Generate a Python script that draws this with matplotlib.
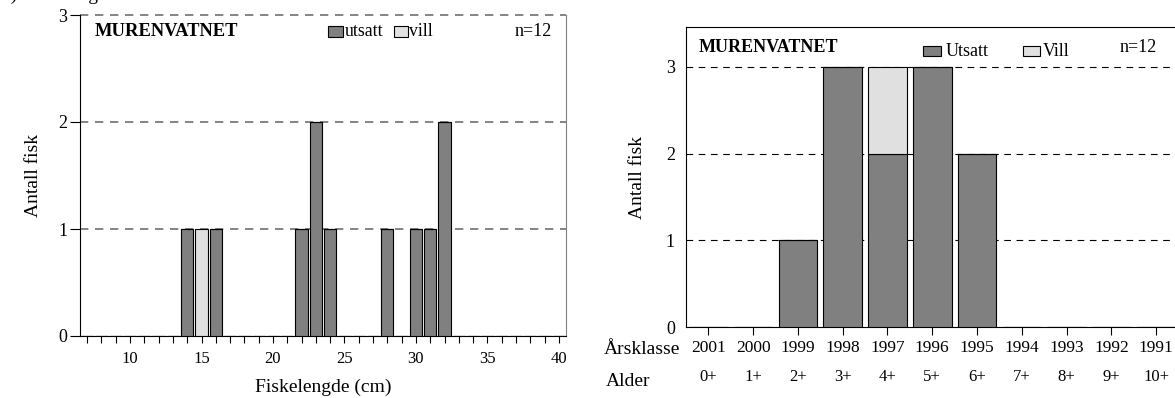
import matplotlib
matplotlib.use("Agg")
import matplotlib.pyplot as plt
from matplotlib.patches import Rectangle

plt.rcParams['font.family'] = ['Liberation Serif', 'DejaVu Serif']

# lengths (cm) and counts, left panel
lengths = list(range(7, 41))
len_utsatt = {14: 1, 16: 1, 22: 1, 23: 2, 24: 1, 28: 1, 30: 1, 31: 1, 32: 2}
len_vill = {15: 1}

# age classes, right panel
year_classes = ['2001', '2000', '1999', '1998', '1997', '1996', '1995', '1994', '1993', '1992', '1991']
ages = ['0+', '1+', '2+', '3+', '4+', '5+', '6+', '7+', '8+', '9+', '10+']
age_utsatt = [0, 0, 1, 3, 2, 3, 2, 0, 0, 0, 0]
age_vill = [0, 0, 0, 0, 1, 0, 0, 0, 0, 0, 0]

lake = 'MURENVATNET'
n_text = 'n=12'
c_utsatt = '#808080'
c_vill = '#e0e0e0'

W, H = 1175, 398
fig = plt.figure(figsize=(W / 100, H / 100), dpi=100)


def fx(x):
    return x / W


def fy(y):
    return 1 - y / H


# ---- left: length distribution
ax1 = fig.add_axes([fx(80), fy(336), 486 / W, 321 / H])
u = [len_utsatt.get(l, 0) for l in lengths]
v = [len_vill.get(l, 0) for l in lengths]
ax1.bar(lengths, u, width=0.86, color=c_utsatt, edgecolor='black', lw=0.8, zorder=3)
ax1.bar(lengths, v, width=0.86, bottom=u, color=c_vill, edgecolor='black', lw=0.8, zorder=3)
ax1.set_xlim(6.5, 40.5)
ax1.set_ylim(0, 3)
for yv in [1, 2, 3]:
    ax1.axhline(yv, color='#707070', ls=(0, (5, 4)), lw=1.2, zorder=1, clip_on=False)
ax1.spines['top'].set_visible(False)
ax1.spines['right'].set_color('#808080')
ax1.set_xticks(lengths, minor=True)
ax1.set_xticks([10, 15, 20, 25, 30, 35, 40])
ax1.tick_params(axis='x', which='both', direction='out', length=5, width=0.8, labelsize=12, pad=6)
ax1.set_yticks([0, 1, 2, 3])
ax1.tick_params(axis='y', direction='out', length=7, width=0.8, labelsize=13, pad=2)
ax1.set_ylabel('Antall fisk', fontsize=14, labelpad=12)
ax1.set_xlabel('Fiskelengde (cm)', fontsize=14, labelpad=8)

fig.text(fx(95), fy(31), lake, fontsize=13.3, fontweight='bold', va='center')
fig.patches.append(Rectangle((fx(328), fy(37)), 15 / W, 11 / H, transform=fig.transFigure,
                             facecolor=c_utsatt, edgecolor='black', lw=0.8))
fig.text(fx(345), fy(32), 'utsatt', fontsize=12.8, va='center')
fig.patches.append(Rectangle((fx(394), fy(37)), 14 / W, 11 / H, transform=fig.transFigure,
                             facecolor=c_vill, edgecolor='black', lw=0.8))
fig.text(fx(409), fy(32), 'vill', fontsize=12.8, va='center')
fig.text(fx(515), fy(32), n_text, fontsize=13, va='center')

# cut-off caption at the very top
fig.text(fx(2), fy(-5), 'a) Fordeling', fontsize=14, va='center')

# ---- right: age distribution
ax2 = fig.add_axes([fx(686), fy(327), 492.5 / W, 300 / H])
xs = list(range(len(year_classes)))
ax2.bar(xs, age_utsatt, width=0.86, color=c_utsatt, edgecolor='black', lw=0.8, zorder=3)
ax2.bar(xs, age_vill, width=0.86, bottom=age_utsatt, color=c_vill, edgecolor='black', lw=0.8, zorder=3)
ax2.set_xlim(-0.5, 10.5)
ax2.set_ylim(0, 3.46)
for yv in [1, 2, 3]:
    ax2.axhline(yv, color='black', ls=(0, (6, 5)), lw=0.8, zorder=1)
ax2.set_xticks(xs)
ax2.set_xticklabels(year_classes)
ax2.tick_params(axis='x', direction='out', length=6, width=0.8, labelsize=12.5, pad=3)
ax2.set_yticks([0, 1, 2, 3])
ax2.tick_params(axis='y', length=0, labelsize=13, pad=8)
ax2.set_ylabel('Antall fisk', fontsize=14, labelpad=14)
for i, a in enumerate(ages):
    ax2.text(i, -0.58, a, transform=ax2.transData, fontsize=12, ha='center', va='center')
fig.text(fx(680), fy(349), 'Årsklasse', fontsize=14, ha='right', va='center')
fig.text(fx(606), fy(381), 'Alder', fontsize=14, ha='left', va='center')

fig.text(fx(699), fy(48), lake, fontsize=13, fontweight='bold', va='center')
fig.patches.append(Rectangle((fx(923), fy(56)), 18 / W, 10 / H, transform=fig.transFigure,
                             facecolor=c_utsatt, edgecolor='black', lw=0.8))
fig.text(fx(946), fy(52), 'Utsatt', fontsize=13, va='center')
fig.patches.append(Rectangle((fx(1023), fy(56)), 17 / W, 10 / H, transform=fig.transFigure,
                             facecolor=c_vill, edgecolor='black', lw=0.8))
fig.text(fx(1043), fy(52), 'Vill', fontsize=13, va='center')
fig.text(fx(1120), fy(48), n_text, fontsize=13, va='center')

fig.savefig('out.png', dpi=100)
